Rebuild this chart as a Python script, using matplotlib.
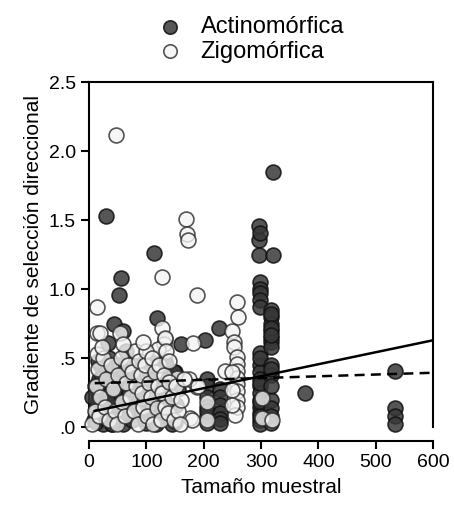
import numpy as np
import matplotlib.pyplot as plt

plt.rcParams['font.family'] = ['Liberation Sans', 'DejaVu Sans']

# Actinomorfica: sample size / directional selection gradient
actino_x = [29, 113, 297, 297, 297, 321, 321, 56, 53, 44, 59, 119, 33, 227, 202,
            298, 298, 298, 298, 298, 298, 298, 298, 298, 298, 298, 298, 298, 298, 298, 298,
            298, 298, 298, 298, 298,
            318, 318, 318, 318, 318, 318, 318, 318, 318, 318, 318, 318, 318,
            318, 318, 318, 318, 318,
            377, 533, 533, 533, 533,
            205, 205, 205, 205, 205, 205, 205,
            228, 228, 228, 228, 228, 228,
            150, 150, 133,
            8, 12, 15, 18, 20, 22, 25, 28, 30, 32, 35, 36, 38, 40, 42, 45, 48, 50,
            52, 55, 58, 60, 62, 65, 68, 70, 75, 78, 82, 88, 92, 95, 100, 105, 110,
            112, 118, 122, 125, 130, 135, 140, 148, 155, 160,
            10, 20, 30, 40, 15, 25, 35, 45,
            5, 12, 18, 24, 30, 36, 42, 48, 54, 28, 34, 40, 22, 16, 46, 58,
            66, 72, 84, 98, 108, 116, 128, 138, 144, 152]
actino_y = [1.53, 1.26, 1.46, 1.36, 1.25, 1.25, 1.85, 1.08, 0.96, 0.75, 0.70, 0.79, 0.61, 0.72, 0.63,
            1.05, 1.00, 0.97, 0.92, 0.87, 0.54, 0.45, 0.40, 0.35, 0.30, 0.25, 0.20, 0.15, 0.10, 0.05, 0.02,
            1.41, 0.50, 0.32, 0.18, 0.08,
            0.85, 0.80, 0.75, 0.70, 0.65, 0.62, 0.58, 0.45, 0.38, 0.20, 0.14, 0.08, 0.03,
            0.82, 0.72, 0.67, 0.42, 0.30,
            0.25, 0.41, 0.14, 0.08, 0.02,
            0.35, 0.30, 0.22, 0.15, 0.08, 0.03, 0.12,
            0.28, 0.22, 0.16, 0.10, 0.06, 0.03,
            0.40, 0.04, 0.48,
            0.05, 0.15, 0.25, 0.35, 0.45, 0.10, 0.02, 0.20, 0.30, 0.40, 0.50, 0.12, 0.05, 0.25, 0.35, 0.18, 0.08, 0.45,
            0.30, 0.22, 0.12, 0.02, 0.38, 0.55, 0.28, 0.15, 0.05, 0.35, 0.45, 0.20, 0.10, 0.30, 0.03, 0.40, 0.15,
            0.25, 0.50, 0.08, 0.35, 0.20, 0.45, 0.12, 0.40, 0.28, 0.60,
            0.30, 0.08, 0.12, 0.02, 0.20, 0.38, 0.22, 0.32,
            0.22, 0.04, 0.30, 0.14, 0.06, 0.24, 0.10, 0.16, 0.06, 0.44, 0.18, 0.02, 0.36, 0.48, 0.28, 0.42,
            0.10, 0.40, 0.24, 0.06, 0.34, 0.02, 0.14, 0.30, 0.02, 0.16]

# Zigomorfica
zygo_x = [47, 169, 171, 173, 127, 188, 14, 258, 260, 250, 14, 14, 54, 127, 182, 133,
          252, 252, 258, 130, 120, 19, 133,
          258, 258, 258, 258, 258, 258, 258, 255, 237, 250, 250, 250,
          302, 302, 319,
          153, 188, 176, 205, 205, 180, 175, 190,
          5, 10, 12, 15, 18, 20, 25, 28, 30, 35, 38, 42, 45, 48, 50, 55, 58, 62,
          65, 68, 72, 75, 78, 80, 82, 85, 88, 90, 92, 95, 98, 100, 102, 105, 108,
          110, 112, 115, 118, 120, 122, 125, 128, 130, 132, 135, 138, 140, 145,
          148, 152, 155, 158, 160, 165, 22, 60, 95, 140]
zygo_y = [2.12, 1.51, 1.40, 1.36, 1.09, 0.96, 0.87, 0.91, 0.80, 0.70, 0.68, 0.53, 0.68, 0.72, 0.61, 0.64,
          0.62, 0.58, 0.51, 0.60, 0.57, 0.68, 0.65,
          0.46, 0.41, 0.36, 0.31, 0.26, 0.20, 0.15, 0.09, 0.41, 0.40, 0.27, 0.16,
          0.21, 0.07, 0.05,
          0.36, 0.29, 0.07, 0.18, 0.05, 0.05, 0.35, 0.30,
          0.02, 0.12, 0.30, 0.42, 0.08, 0.22, 0.50, 0.15, 0.35, 0.05, 0.45, 0.28, 0.12, 0.02, 0.38, 0.50, 0.18, 0.08,
          0.32, 0.45, 0.22, 0.40, 0.12, 0.55, 0.30, 0.02, 0.48, 0.38, 0.25, 0.15, 0.45, 0.55, 0.08, 0.32, 0.22,
          0.50, 0.02, 0.40, 0.14, 0.30, 0.45, 0.05, 0.25, 0.38, 0.15, 0.55, 0.10, 0.33, 0.22,
          0.05, 0.30, 0.12, 0.02, 0.20, 0.35, 0.58, 0.60, 0.62, 0.48]

# fitted lines: intercept, slope
fit_actino = (0.109, 0.000869)
fit_zygo = (0.318, 0.000128)
fit_x = [10, 600]

xticks = [0, 100, 200, 300, 400, 500, 600]
yticks = [0, 0.5, 1.0, 1.5, 2.0, 2.5]
ytick_labels = ['.0', '.5', '1.0', '1.5', '2.0', '2.5']

fig = plt.figure(figsize=(4.54, 5.08), dpi=100)
ax = fig.add_axes([0.196, 0.159, 0.758, 0.679])

ax.scatter(actino_x, actino_y, s=115, facecolor='#383838', edgecolor='#111111',
           linewidth=1.2, alpha=0.85, clip_on=False, zorder=3, label='Actinomórfica')
ax.scatter(zygo_x, zygo_y, s=115, facecolor='#f4f4f4', edgecolor='#2a2a2a',
           linewidth=1.2, alpha=0.8, clip_on=False, zorder=3, label='Zigomórfica')

fx = np.array(fit_x)
ax.plot(fx, fit_actino[0] + fit_actino[1] * fx, color='black', lw=1.8, zorder=4)
ax.plot(fx, fit_zygo[0] + fit_zygo[1] * fx, color='black', lw=1.8, ls=(0, (4, 2.5)), zorder=4)

ax.set_xlim(0, 600)
ax.set_ylim(0, 2.5)
ax.set_xticks(xticks)
ax.set_yticks(yticks)
ax.set_yticklabels(ytick_labels)

for s in ax.spines.values():
    s.set_linewidth(1.5)
ax.spines['bottom'].set_position(('outward', 10))
ax.tick_params(width=1.5, length=6, labelsize=14, color='black')

ax.set_xlabel('Tamaño muestral', fontsize=15, labelpad=5)
ax.set_ylabel('Gradiente de selección direccional', fontsize=15, labelpad=4)

fig.legend(loc='upper center', bbox_to_anchor=(0.54, 1.01), frameon=False, fontsize=17,
           handletextpad=0.3, labelspacing=0.1, markerscale=0.9)

plt.savefig('out.png', dpi=100)
